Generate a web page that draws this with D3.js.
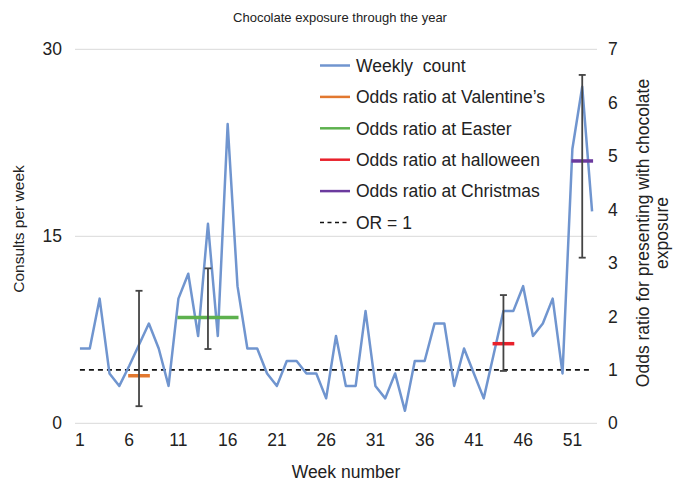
<!DOCTYPE html>
<html><head><meta charset="utf-8">
<script src="https://cdn.jsdelivr.net/npm/d3@7/dist/d3.min.js"></script>
<style>body{margin:0;background:#fff;} text{font-family:"Liberation Sans",Arial,sans-serif;fill:#222;}</style>
</head><body><svg id="c" width="673" height="484"></svg>
<script>
const weeks = d3.range(1, 54);
const weeklyCount = [6,6,10,4,3,4.6,6.3,8,6,3,10,12,7,16,7,24,11,6,6,4,3,5,5,4,4,2,7,3,3,9,3,2,4,1,5,5,8,8,3,6,4,2,5.5,9,9,11,7,8,10,4,22,27,17];
const leftTicks = [0, 15, 30];
const rightTicks = [0,1,2,3,4,5,6,7];
const xTickWeeks = [1,6,11,16,21,26,31,36,41,46,51];
// odds ratio series: [startWeek, endWeek, OR, midWeek, lower CI, upper CI]
const orNames = ["Odds ratio at Valentine’s","Odds ratio at Easter","Odds ratio at halloween","Odds ratio at Christmas"];
const orStart = [6, 11, 43, 51];
const orEnd = [8, 17, 45, 53];
const orValue = [0.89, 1.98, 1.49, 4.91];
const orMid = [7, 14, 44, 52];
const orLow = [0.32, 1.39, 0.98, 3.10];
const orHigh = [2.48, 2.90, 2.40, 6.52];
const orColors = ["#E2782F", "#5DB14E", "#E8212B", "#6B3A9E"];
const countColor = "#7095CF";

const FONT = "Liberation Sans, Arial, sans-serif";
const svg = d3.select("#c");
const L = 75, R = 597, T = 49.3, B = 423.3;
const x = d3.scaleBand().domain(weeks).range([L, R]);
const xc = w => x(w) + x.bandwidth()/2;
const yL = d3.scaleLinear().domain([0, 30]).range([B, T]);
const yR = d3.scaleLinear().domain([0, 7]).range([B, T]);

// gridlines
svg.append("g").selectAll("line").data(leftTicks).join("line")
  .attr("x1", L).attr("x2", R).attr("y1", d => yL(d)).attr("y2", d => yL(d))
  .attr("stroke", "#d9d9d9").attr("stroke-width", 1);

// left axis
const gl = svg.append("g").attr("transform", `translate(${L},0)`)
  .call(d3.axisLeft(yL).tickValues(leftTicks).tickSize(0).tickPadding(13));
gl.select(".domain").remove();
gl.selectAll("text").style("font-size", "17.5px").style("font-family", FONT).attr("fill", "#222");

// right axis
const gr = svg.append("g").attr("transform", `translate(${R},0)`)
  .call(d3.axisRight(yR).tickValues(rightTicks).tickFormat(d3.format("d")).tickSize(0).tickPadding(11));
gr.select(".domain").remove();
gr.selectAll("text").style("font-size", "17.5px").style("font-family", FONT).attr("fill", "#222");

// bottom axis
const gb = svg.append("g").attr("transform", `translate(0,${B})`)
  .call(d3.axisBottom(x).tickValues(xTickWeeks).tickSize(0).tickPadding(10));
gb.select(".domain").remove();
gb.selectAll("text").style("font-size", "17.5px").style("font-family", FONT).attr("fill", "#222");

// OR = 1 dashed line
svg.append("line").attr("x1", xc(1)).attr("x2", xc(53)).attr("y1", yR(1)).attr("y2", yR(1))
  .attr("stroke", "#111").attr("stroke-width", 1.6).attr("stroke-dasharray", "5,4");

// weekly count line
const line = d3.line().x((d, i) => xc(weeks[i])).y(d => yL(d));
svg.append("path").datum(weeklyCount).attr("d", line)
  .attr("fill", "none").attr("stroke", countColor).attr("stroke-width", 2.5).attr("stroke-linejoin", "round");

// OR lines
orNames.forEach((n, i) => {
  svg.append("line").attr("x1", xc(orStart[i]) - 1).attr("x2", xc(orEnd[i]) + 1)
    .attr("y1", yR(orValue[i])).attr("y2", yR(orValue[i]))
    .attr("stroke", orColors[i]).attr("stroke-width", 3.5);
});
// error bars
orNames.forEach((n, i) => {
  const cx = xc(orMid[i]);
  const g = svg.append("g").attr("stroke", "#444").attr("stroke-width", 1.8);
  g.append("line").attr("x1", cx).attr("x2", cx).attr("y1", yR(orLow[i])).attr("y2", yR(orHigh[i]));
  g.append("line").attr("x1", cx - 3.5).attr("x2", cx + 3.5).attr("y1", yR(orLow[i])).attr("y2", yR(orLow[i]));
  g.append("line").attr("x1", cx - 3.5).attr("x2", cx + 3.5).attr("y1", yR(orHigh[i])).attr("y2", yR(orHigh[i]));
});

// title & axis titles
svg.append("text").attr("x", 340).attr("y", 22).attr("text-anchor", "middle").style("font-size", "13px")
  .text("Chocolate exposure through the year");
svg.append("text").attr("x", 346).attr("y", 478).attr("text-anchor", "middle").style("font-size", "17.5px")
  .text("Week number");
svg.append("text").attr("transform", "translate(24,229) rotate(-90)").attr("text-anchor", "middle").style("font-size", "15.5px")
  .text("Consults per week");
const rt = svg.append("text").attr("transform", "translate(649,233) rotate(-90)").attr("text-anchor", "middle").style("font-size", "17.5px");
rt.append("tspan").attr("x", 0).attr("y", 0).text("Odds ratio for presenting with chocolate");
rt.append("tspan").attr("x", 0).attr("y", 19).text("exposure");

// legend
const legItems = [{name: "Weekly  count", color: countColor, dash: null}]
  .concat(orNames.map((n, i) => ({name: n, color: orColors[i], dash: null})))
  .concat([{name: "OR = 1", color: "#111", dash: "4,3.5"}]);
const lg = svg.append("g");
legItems.forEach((d, i) => {
  const yy = 65.5 + i * 31.4;
  lg.append("line").attr("x1", 320).attr("x2", 350).attr("y1", yy).attr("y2", yy)
    .attr("stroke", d.color).attr("stroke-width", d.dash ? 1.6 : 2.5).attr("stroke-dasharray", d.dash);
  lg.append("text").attr("x", 356).attr("y", yy + 6.3).style("font-size", "17.5px").style("white-space", "pre")
    .attr("xml:space", "preserve").text(d.name);
});
</script></body></html>
